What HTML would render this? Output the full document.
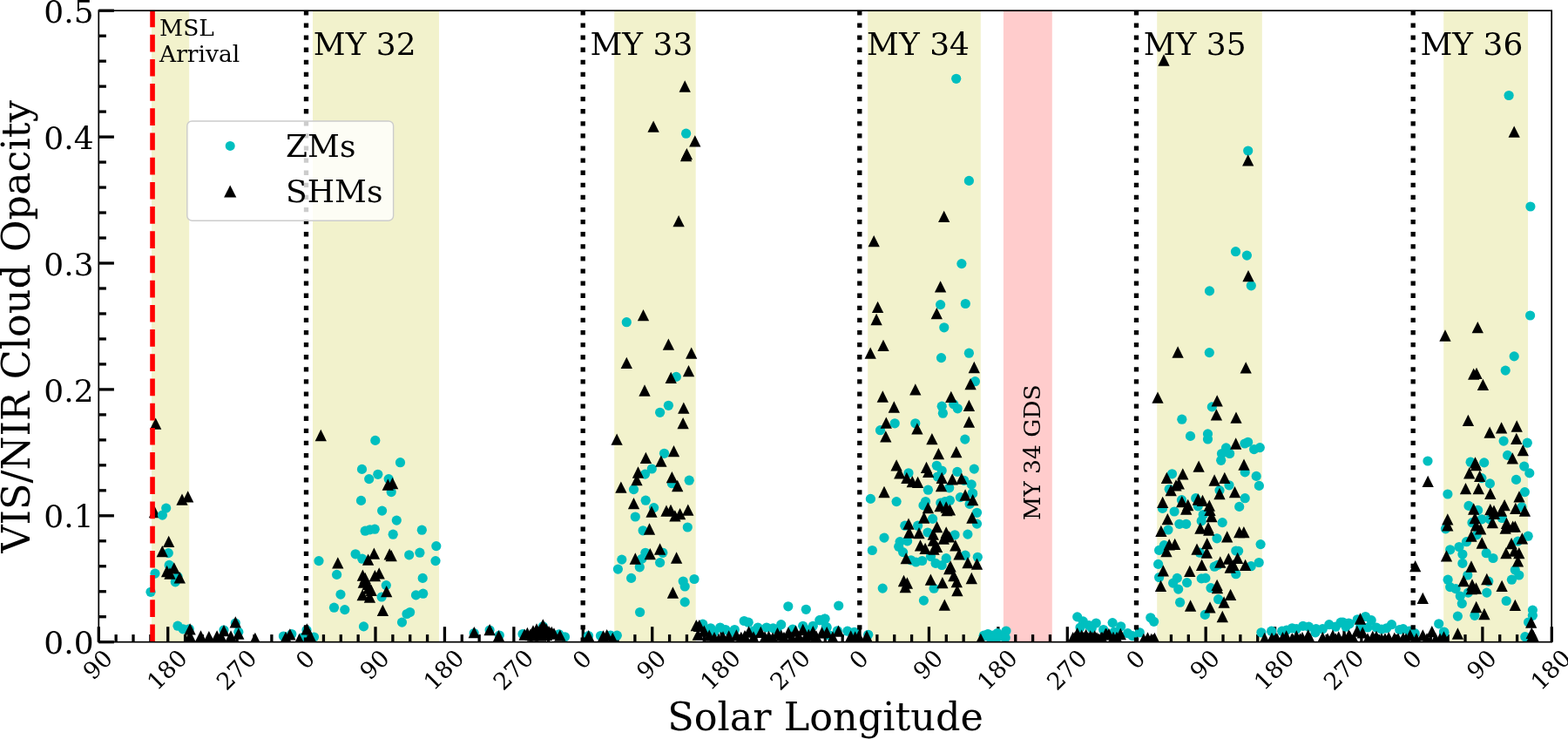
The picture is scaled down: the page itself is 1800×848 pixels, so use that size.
<!DOCTYPE html><html><head><meta charset="utf-8"><style>html,body{margin:0;padding:0;background:#fff;overflow:hidden}svg{display:block}</style></head><body><svg width="1800" height="848" viewBox="0 0 1800 848"><rect x="0" y="0" width="1800" height="848" fill="#fff"/><defs><clipPath id="ax"><rect x="113.3" y="12.2" width="1667.90" height="724.50"/></clipPath></defs><rect x="174.0" y="12.2" width="43.20" height="724.50" fill="#f2f2cc"/><rect x="359.0" y="12.2" width="145.00" height="724.50" fill="#f2f2cc"/><rect x="705.2" y="12.2" width="93.50" height="724.50" fill="#f2f2cc"/><rect x="996.2" y="12.2" width="129.60" height="724.50" fill="#f2f2cc"/><rect x="1328.2" y="12.2" width="120.60" height="724.50" fill="#f2f2cc"/><rect x="1657.2" y="12.2" width="96.80" height="724.50" fill="#f2f2cc"/><rect x="1151.9" y="12.2" width="55.90" height="724.50" fill="#ffcccc"/><line x1="113.3" y1="736.70" x2="130.9" y2="736.70" stroke="#000" stroke-width="3.3"/><line x1="113.3" y1="707.72" x2="121.89999999999999" y2="707.72" stroke="#000" stroke-width="3.3"/><line x1="113.3" y1="678.74" x2="121.89999999999999" y2="678.74" stroke="#000" stroke-width="3.3"/><line x1="113.3" y1="649.76" x2="121.89999999999999" y2="649.76" stroke="#000" stroke-width="3.3"/><line x1="113.3" y1="620.78" x2="121.89999999999999" y2="620.78" stroke="#000" stroke-width="3.3"/><line x1="113.3" y1="591.80" x2="130.9" y2="591.80" stroke="#000" stroke-width="3.3"/><line x1="113.3" y1="562.82" x2="121.89999999999999" y2="562.82" stroke="#000" stroke-width="3.3"/><line x1="113.3" y1="533.84" x2="121.89999999999999" y2="533.84" stroke="#000" stroke-width="3.3"/><line x1="113.3" y1="504.86" x2="121.89999999999999" y2="504.86" stroke="#000" stroke-width="3.3"/><line x1="113.3" y1="475.88" x2="121.89999999999999" y2="475.88" stroke="#000" stroke-width="3.3"/><line x1="113.3" y1="446.90" x2="130.9" y2="446.90" stroke="#000" stroke-width="3.3"/><line x1="113.3" y1="417.92" x2="121.89999999999999" y2="417.92" stroke="#000" stroke-width="3.3"/><line x1="113.3" y1="388.94" x2="121.89999999999999" y2="388.94" stroke="#000" stroke-width="3.3"/><line x1="113.3" y1="359.96" x2="121.89999999999999" y2="359.96" stroke="#000" stroke-width="3.3"/><line x1="113.3" y1="330.98" x2="121.89999999999999" y2="330.98" stroke="#000" stroke-width="3.3"/><line x1="113.3" y1="302.00" x2="130.9" y2="302.00" stroke="#000" stroke-width="3.3"/><line x1="113.3" y1="273.02" x2="121.89999999999999" y2="273.02" stroke="#000" stroke-width="3.3"/><line x1="113.3" y1="244.04" x2="121.89999999999999" y2="244.04" stroke="#000" stroke-width="3.3"/><line x1="113.3" y1="215.06" x2="121.89999999999999" y2="215.06" stroke="#000" stroke-width="3.3"/><line x1="113.3" y1="186.08" x2="121.89999999999999" y2="186.08" stroke="#000" stroke-width="3.3"/><line x1="113.3" y1="157.10" x2="130.9" y2="157.10" stroke="#000" stroke-width="3.3"/><line x1="113.3" y1="128.12" x2="121.89999999999999" y2="128.12" stroke="#000" stroke-width="3.3"/><line x1="113.3" y1="99.14" x2="121.89999999999999" y2="99.14" stroke="#000" stroke-width="3.3"/><line x1="113.3" y1="70.16" x2="121.89999999999999" y2="70.16" stroke="#000" stroke-width="3.3"/><line x1="113.3" y1="41.18" x2="121.89999999999999" y2="41.18" stroke="#000" stroke-width="3.3"/><line x1="113.3" y1="12.20" x2="130.9" y2="12.20" stroke="#000" stroke-width="3.3"/><line x1="113.30" y1="736.7" x2="113.30" y2="719.2" stroke="#000" stroke-width="3.3"/><line x1="133.16" y1="736.7" x2="133.16" y2="728.1" stroke="#000" stroke-width="3.3"/><line x1="153.01" y1="736.7" x2="153.01" y2="728.1" stroke="#000" stroke-width="3.3"/><line x1="172.87" y1="736.7" x2="172.87" y2="728.1" stroke="#000" stroke-width="3.3"/><line x1="192.73" y1="736.7" x2="192.73" y2="719.2" stroke="#000" stroke-width="3.3"/><line x1="212.59" y1="736.7" x2="212.59" y2="728.1" stroke="#000" stroke-width="3.3"/><line x1="232.44" y1="736.7" x2="232.44" y2="728.1" stroke="#000" stroke-width="3.3"/><line x1="252.30" y1="736.7" x2="252.30" y2="728.1" stroke="#000" stroke-width="3.3"/><line x1="272.16" y1="736.7" x2="272.16" y2="719.2" stroke="#000" stroke-width="3.3"/><line x1="292.01" y1="736.7" x2="292.01" y2="728.1" stroke="#000" stroke-width="3.3"/><line x1="311.87" y1="736.7" x2="311.87" y2="728.1" stroke="#000" stroke-width="3.3"/><line x1="331.73" y1="736.7" x2="331.73" y2="728.1" stroke="#000" stroke-width="3.3"/><line x1="351.59" y1="736.7" x2="351.59" y2="719.2" stroke="#000" stroke-width="3.3"/><line x1="371.44" y1="736.7" x2="371.44" y2="728.1" stroke="#000" stroke-width="3.3"/><line x1="391.30" y1="736.7" x2="391.30" y2="728.1" stroke="#000" stroke-width="3.3"/><line x1="411.16" y1="736.7" x2="411.16" y2="728.1" stroke="#000" stroke-width="3.3"/><line x1="431.01" y1="736.7" x2="431.01" y2="719.2" stroke="#000" stroke-width="3.3"/><line x1="450.87" y1="736.7" x2="450.87" y2="728.1" stroke="#000" stroke-width="3.3"/><line x1="470.73" y1="736.7" x2="470.73" y2="728.1" stroke="#000" stroke-width="3.3"/><line x1="490.59" y1="736.7" x2="490.59" y2="728.1" stroke="#000" stroke-width="3.3"/><line x1="510.44" y1="736.7" x2="510.44" y2="719.2" stroke="#000" stroke-width="3.3"/><line x1="530.30" y1="736.7" x2="530.30" y2="728.1" stroke="#000" stroke-width="3.3"/><line x1="550.16" y1="736.7" x2="550.16" y2="728.1" stroke="#000" stroke-width="3.3"/><line x1="570.01" y1="736.7" x2="570.01" y2="728.1" stroke="#000" stroke-width="3.3"/><line x1="589.87" y1="736.7" x2="589.87" y2="719.2" stroke="#000" stroke-width="3.3"/><line x1="609.73" y1="736.7" x2="609.73" y2="728.1" stroke="#000" stroke-width="3.3"/><line x1="629.59" y1="736.7" x2="629.59" y2="728.1" stroke="#000" stroke-width="3.3"/><line x1="649.44" y1="736.7" x2="649.44" y2="728.1" stroke="#000" stroke-width="3.3"/><line x1="669.30" y1="736.7" x2="669.30" y2="719.2" stroke="#000" stroke-width="3.3"/><line x1="689.16" y1="736.7" x2="689.16" y2="728.1" stroke="#000" stroke-width="3.3"/><line x1="709.01" y1="736.7" x2="709.01" y2="728.1" stroke="#000" stroke-width="3.3"/><line x1="728.87" y1="736.7" x2="728.87" y2="728.1" stroke="#000" stroke-width="3.3"/><line x1="748.73" y1="736.7" x2="748.73" y2="719.2" stroke="#000" stroke-width="3.3"/><line x1="768.59" y1="736.7" x2="768.59" y2="728.1" stroke="#000" stroke-width="3.3"/><line x1="788.44" y1="736.7" x2="788.44" y2="728.1" stroke="#000" stroke-width="3.3"/><line x1="808.30" y1="736.7" x2="808.30" y2="728.1" stroke="#000" stroke-width="3.3"/><line x1="828.16" y1="736.7" x2="828.16" y2="719.2" stroke="#000" stroke-width="3.3"/><line x1="848.01" y1="736.7" x2="848.01" y2="728.1" stroke="#000" stroke-width="3.3"/><line x1="867.87" y1="736.7" x2="867.87" y2="728.1" stroke="#000" stroke-width="3.3"/><line x1="887.73" y1="736.7" x2="887.73" y2="728.1" stroke="#000" stroke-width="3.3"/><line x1="907.59" y1="736.7" x2="907.59" y2="719.2" stroke="#000" stroke-width="3.3"/><line x1="927.44" y1="736.7" x2="927.44" y2="728.1" stroke="#000" stroke-width="3.3"/><line x1="947.30" y1="736.7" x2="947.30" y2="728.1" stroke="#000" stroke-width="3.3"/><line x1="967.16" y1="736.7" x2="967.16" y2="728.1" stroke="#000" stroke-width="3.3"/><line x1="987.01" y1="736.7" x2="987.01" y2="719.2" stroke="#000" stroke-width="3.3"/><line x1="1006.87" y1="736.7" x2="1006.87" y2="728.1" stroke="#000" stroke-width="3.3"/><line x1="1026.73" y1="736.7" x2="1026.73" y2="728.1" stroke="#000" stroke-width="3.3"/><line x1="1046.59" y1="736.7" x2="1046.59" y2="728.1" stroke="#000" stroke-width="3.3"/><line x1="1066.44" y1="736.7" x2="1066.44" y2="719.2" stroke="#000" stroke-width="3.3"/><line x1="1086.30" y1="736.7" x2="1086.30" y2="728.1" stroke="#000" stroke-width="3.3"/><line x1="1106.16" y1="736.7" x2="1106.16" y2="728.1" stroke="#000" stroke-width="3.3"/><line x1="1126.01" y1="736.7" x2="1126.01" y2="728.1" stroke="#000" stroke-width="3.3"/><line x1="1145.87" y1="736.7" x2="1145.87" y2="719.2" stroke="#000" stroke-width="3.3"/><line x1="1165.73" y1="736.7" x2="1165.73" y2="728.1" stroke="#000" stroke-width="3.3"/><line x1="1185.59" y1="736.7" x2="1185.59" y2="728.1" stroke="#000" stroke-width="3.3"/><line x1="1205.44" y1="736.7" x2="1205.44" y2="728.1" stroke="#000" stroke-width="3.3"/><line x1="1225.30" y1="736.7" x2="1225.30" y2="719.2" stroke="#000" stroke-width="3.3"/><line x1="1245.16" y1="736.7" x2="1245.16" y2="728.1" stroke="#000" stroke-width="3.3"/><line x1="1265.01" y1="736.7" x2="1265.01" y2="728.1" stroke="#000" stroke-width="3.3"/><line x1="1284.87" y1="736.7" x2="1284.87" y2="728.1" stroke="#000" stroke-width="3.3"/><line x1="1304.73" y1="736.7" x2="1304.73" y2="719.2" stroke="#000" stroke-width="3.3"/><line x1="1324.59" y1="736.7" x2="1324.59" y2="728.1" stroke="#000" stroke-width="3.3"/><line x1="1344.44" y1="736.7" x2="1344.44" y2="728.1" stroke="#000" stroke-width="3.3"/><line x1="1364.30" y1="736.7" x2="1364.30" y2="728.1" stroke="#000" stroke-width="3.3"/><line x1="1384.16" y1="736.7" x2="1384.16" y2="719.2" stroke="#000" stroke-width="3.3"/><line x1="1404.01" y1="736.7" x2="1404.01" y2="728.1" stroke="#000" stroke-width="3.3"/><line x1="1423.87" y1="736.7" x2="1423.87" y2="728.1" stroke="#000" stroke-width="3.3"/><line x1="1443.73" y1="736.7" x2="1443.73" y2="728.1" stroke="#000" stroke-width="3.3"/><line x1="1463.59" y1="736.7" x2="1463.59" y2="719.2" stroke="#000" stroke-width="3.3"/><line x1="1483.44" y1="736.7" x2="1483.44" y2="728.1" stroke="#000" stroke-width="3.3"/><line x1="1503.30" y1="736.7" x2="1503.30" y2="728.1" stroke="#000" stroke-width="3.3"/><line x1="1523.16" y1="736.7" x2="1523.16" y2="728.1" stroke="#000" stroke-width="3.3"/><line x1="1543.01" y1="736.7" x2="1543.01" y2="719.2" stroke="#000" stroke-width="3.3"/><line x1="1562.87" y1="736.7" x2="1562.87" y2="728.1" stroke="#000" stroke-width="3.3"/><line x1="1582.73" y1="736.7" x2="1582.73" y2="728.1" stroke="#000" stroke-width="3.3"/><line x1="1602.59" y1="736.7" x2="1602.59" y2="728.1" stroke="#000" stroke-width="3.3"/><line x1="1622.44" y1="736.7" x2="1622.44" y2="719.2" stroke="#000" stroke-width="3.3"/><line x1="1642.30" y1="736.7" x2="1642.30" y2="728.1" stroke="#000" stroke-width="3.3"/><line x1="1662.16" y1="736.7" x2="1662.16" y2="728.1" stroke="#000" stroke-width="3.3"/><line x1="1682.01" y1="736.7" x2="1682.01" y2="728.1" stroke="#000" stroke-width="3.3"/><line x1="1701.87" y1="736.7" x2="1701.87" y2="719.2" stroke="#000" stroke-width="3.3"/><line x1="1721.73" y1="736.7" x2="1721.73" y2="728.1" stroke="#000" stroke-width="3.3"/><line x1="1741.59" y1="736.7" x2="1741.59" y2="728.1" stroke="#000" stroke-width="3.3"/><line x1="1761.44" y1="736.7" x2="1761.44" y2="728.1" stroke="#000" stroke-width="3.3"/><line x1="1781.30" y1="736.7" x2="1781.30" y2="719.2" stroke="#000" stroke-width="3.3"/><g clip-path="url(#ax)"><g fill="#00bfbf"><circle cx="193.3" cy="634.6" r="5.6"/><circle cx="194.2" cy="648.4" r="5.6"/><circle cx="178.0" cy="658.1" r="5.6"/><circle cx="204.0" cy="661.6" r="5.6"/><circle cx="201.3" cy="667.8" r="5.6"/><circle cx="173.0" cy="679.3" r="5.6"/><circle cx="204.0" cy="718.2" r="5.6"/><circle cx="210.1" cy="721.8" r="5.6"/><circle cx="217.2" cy="721.8" r="5.6"/><circle cx="257.0" cy="723.0" r="5.6"/><circle cx="270.3" cy="715.0" r="5.6"/><circle cx="273.8" cy="725.3" r="5.6"/><circle cx="430.8" cy="505.4" r="5.6"/><circle cx="459.5" cy="530.7" r="5.6"/><circle cx="415.5" cy="538.4" r="5.6"/><circle cx="433.8" cy="544.3" r="5.6"/><circle cx="423.7" cy="549.6" r="5.6"/><circle cx="446.2" cy="549.6" r="5.6"/><circle cx="449.2" cy="564.6" r="5.6"/><circle cx="414.5" cy="574.4" r="5.6"/><circle cx="438.6" cy="586.1" r="5.6"/><circle cx="455.3" cy="597.1" r="5.6"/><circle cx="419.2" cy="609.2" r="5.6"/><circle cx="424.6" cy="607.8" r="5.6"/><circle cx="430.2" cy="607.2" r="5.6"/><circle cx="451.2" cy="613.2" r="5.6"/><circle cx="484.3" cy="608.2" r="5.6"/><circle cx="500.8" cy="626.6" r="5.6"/><circle cx="500.0" cy="643.6" r="5.6"/><circle cx="481.9" cy="634.2" r="5.6"/><circle cx="469.7" cy="636.8" r="5.6"/><circle cx="408.1" cy="635.8" r="5.6"/><circle cx="415.8" cy="641.2" r="5.6"/><circle cx="366.0" cy="643.6" r="5.6"/><circle cx="386.6" cy="659.4" r="5.6"/><circle cx="485.2" cy="663.4" r="5.6"/><circle cx="443.3" cy="671.6" r="5.6"/><circle cx="438.1" cy="685.0" r="5.6"/><circle cx="391.0" cy="682.1" r="5.6"/><circle cx="477.5" cy="682.9" r="5.6"/><circle cx="485.7" cy="681.2" r="5.6"/><circle cx="383.5" cy="697.2" r="5.6"/><circle cx="395.8" cy="699.6" r="5.6"/><circle cx="467.0" cy="704.5" r="5.6"/><circle cx="470.6" cy="702.5" r="5.6"/><circle cx="461.5" cy="714.1" r="5.6"/><circle cx="417.5" cy="718.9" r="5.6"/><circle cx="787.6" cy="153.2" r="5.6"/><circle cx="719.3" cy="369.7" r="5.6"/><circle cx="776.3" cy="432.4" r="5.6"/><circle cx="767.4" cy="465.3" r="5.6"/><circle cx="757.6" cy="473.3" r="5.6"/><circle cx="762.5" cy="520.3" r="5.6"/><circle cx="748.3" cy="538.0" r="5.6"/><circle cx="740.5" cy="544.1" r="5.6"/><circle cx="771.4" cy="554.7" r="5.6"/><circle cx="791.2" cy="551.2" r="5.6"/><circle cx="727.5" cy="561.6" r="5.6"/><circle cx="741.2" cy="574.2" r="5.6"/><circle cx="750.6" cy="582.6" r="5.6"/><circle cx="729.3" cy="593.0" r="5.6"/><circle cx="789.3" cy="605.0" r="5.6"/><circle cx="738.1" cy="608.8" r="5.6"/><circle cx="740.9" cy="634.3" r="5.6"/><circle cx="760.8" cy="634.3" r="5.6"/><circle cx="736.7" cy="641.4" r="5.6"/><circle cx="757.6" cy="645.6" r="5.6"/><circle cx="713.8" cy="642.1" r="5.6"/><circle cx="709.4" cy="653.1" r="5.6"/><circle cx="734.3" cy="650.8" r="5.6"/><circle cx="724.6" cy="663.4" r="5.6"/><circle cx="784.2" cy="667.0" r="5.6"/><circle cx="797.0" cy="664.5" r="5.6"/><circle cx="786.2" cy="673.0" r="5.6"/><circle cx="786.2" cy="690.9" r="5.6"/><circle cx="806.8" cy="716.1" r="5.6"/><circle cx="1097.7" cy="90.3" r="5.6"/><circle cx="1112.4" cy="207.4" r="5.6"/><circle cx="1103.9" cy="302.6" r="5.6"/><circle cx="1079.6" cy="349.6" r="5.6"/><circle cx="1108.3" cy="348.5" r="5.6"/><circle cx="1083.8" cy="375.8" r="5.6"/><circle cx="1080.5" cy="410.6" r="5.6"/><circle cx="1112.4" cy="405.2" r="5.6"/><circle cx="1119.4" cy="437.7" r="5.6"/><circle cx="1081.2" cy="466.2" r="5.6"/><circle cx="1082.4" cy="474.2" r="5.6"/><circle cx="1094.7" cy="463.8" r="5.6"/><circle cx="1099.3" cy="468.8" r="5.6"/><circle cx="1027.2" cy="485.8" r="5.6"/><circle cx="1010.5" cy="493.7" r="5.6"/><circle cx="1050.8" cy="485.8" r="5.6"/><circle cx="1107.8" cy="504.1" r="5.6"/><circle cx="1043.0" cy="542.8" r="5.6"/><circle cx="1075.3" cy="534.3" r="5.6"/><circle cx="1081.2" cy="540.0" r="5.6"/><circle cx="1076.3" cy="547.0" r="5.6"/><circle cx="1089.7" cy="559.8" r="5.6"/><circle cx="1098.9" cy="541.4" r="5.6"/><circle cx="1106.7" cy="551.3" r="5.6"/><circle cx="1118.3" cy="538.1" r="5.6"/><circle cx="1115.2" cy="555.9" r="5.6"/><circle cx="1116.3" cy="565.8" r="5.6"/><circle cx="1102.4" cy="570.6" r="5.6"/><circle cx="1116.6" cy="566.4" r="5.6"/><circle cx="999.4" cy="572.4" r="5.6"/><circle cx="1029.1" cy="575.6" r="5.6"/><circle cx="1065.4" cy="562.2" r="5.6"/><circle cx="1062.5" cy="575.5" r="5.6"/><circle cx="1060.0" cy="579.9" r="5.6"/><circle cx="1079.8" cy="577.0" r="5.6"/><circle cx="1090.4" cy="574.2" r="5.6"/><circle cx="1084.8" cy="575.6" r="5.6"/><circle cx="1113.1" cy="578.4" r="5.6"/><circle cx="1121.5" cy="588.3" r="5.6"/><circle cx="1121.5" cy="601.1" r="5.6"/><circle cx="1070.6" cy="595.4" r="5.6"/><circle cx="1038.8" cy="603.2" r="5.6"/><circle cx="1053.6" cy="603.2" r="5.6"/><circle cx="1065.0" cy="611.0" r="5.6"/><circle cx="1096.1" cy="613.8" r="5.6"/><circle cx="1110.9" cy="613.1" r="5.6"/><circle cx="1015.0" cy="617.1" r="5.6"/><circle cx="1033.1" cy="621.6" r="5.6"/><circle cx="1041.6" cy="620.9" r="5.6"/><circle cx="1031.7" cy="627.3" r="5.6"/><circle cx="1001.3" cy="631.5" r="5.6"/><circle cx="1036.6" cy="633.6" r="5.6"/><circle cx="1068.5" cy="638.6" r="5.6"/><circle cx="1045.8" cy="642.8" r="5.6"/><circle cx="1051.5" cy="645.0" r="5.6"/><circle cx="1058.6" cy="643.5" r="5.6"/><circle cx="1086.2" cy="640.7" r="5.6"/><circle cx="1074.1" cy="646.4" r="5.6"/><circle cx="1081.2" cy="648.5" r="5.6"/><circle cx="1108.1" cy="637.2" r="5.6"/><circle cx="1122.3" cy="639.3" r="5.6"/><circle cx="1013.2" cy="675.1" r="5.6"/><circle cx="1072.1" cy="675.2" r="5.6"/><circle cx="1060.4" cy="689.1" r="5.6"/><circle cx="1129.4" cy="729.2" r="5.6"/><circle cx="1133.4" cy="728.2" r="5.6"/><circle cx="1432.7" cy="173.0" r="5.6"/><circle cx="1418.5" cy="288.7" r="5.6"/><circle cx="1431.4" cy="293.1" r="5.6"/><circle cx="1436.3" cy="327.8" r="5.6"/><circle cx="1388.5" cy="333.9" r="5.6"/><circle cx="1388.3" cy="404.6" r="5.6"/><circle cx="1391.3" cy="466.9" r="5.6"/><circle cx="1356.8" cy="481.2" r="5.6"/><circle cx="1366.5" cy="500.4" r="5.6"/><circle cx="1386.5" cy="497.9" r="5.6"/><circle cx="1386.5" cy="504.0" r="5.6"/><circle cx="1407.5" cy="513.9" r="5.6"/><circle cx="1402.5" cy="520.5" r="5.6"/><circle cx="1411.6" cy="520.5" r="5.6"/><circle cx="1401.7" cy="528.3" r="5.6"/><circle cx="1428.9" cy="509.0" r="5.6"/><circle cx="1432.6" cy="507.3" r="5.6"/><circle cx="1439.6" cy="515.6" r="5.6"/><circle cx="1446.3" cy="513.6" r="5.6"/><circle cx="1429.2" cy="541.9" r="5.6"/><circle cx="1442.2" cy="546.4" r="5.6"/><circle cx="1445.4" cy="557.4" r="5.6"/><circle cx="1345.5" cy="543.8" r="5.6"/><circle cx="1342.2" cy="561.3" r="5.6"/><circle cx="1411.0" cy="556.8" r="5.6"/><circle cx="1400.0" cy="562.6" r="5.6"/><circle cx="1429.2" cy="571.7" r="5.6"/><circle cx="1422.7" cy="581.4" r="5.6"/><circle cx="1334.5" cy="583.4" r="5.6"/><circle cx="1356.5" cy="573.7" r="5.6"/><circle cx="1348.1" cy="587.0" r="5.6"/><circle cx="1372.7" cy="571.7" r="5.6"/><circle cx="1375.3" cy="580.8" r="5.6"/><circle cx="1381.2" cy="590.5" r="5.6"/><circle cx="1379.2" cy="597.7" r="5.6"/><circle cx="1353.9" cy="601.3" r="5.6"/><circle cx="1361.7" cy="601.3" r="5.6"/><circle cx="1403.2" cy="599.6" r="5.6"/><circle cx="1341.0" cy="608.0" r="5.6"/><circle cx="1397.0" cy="617.8" r="5.6"/><circle cx="1447.1" cy="624.6" r="5.6"/><circle cx="1336.4" cy="625.6" r="5.6"/><circle cx="1418.8" cy="632.0" r="5.6"/><circle cx="1330.6" cy="631.4" r="5.6"/><circle cx="1377.3" cy="634.2" r="5.6"/><circle cx="1421.6" cy="632.3" r="5.6"/><circle cx="1394.2" cy="650.2" r="5.6"/><circle cx="1398.0" cy="648.3" r="5.6"/><circle cx="1418.8" cy="658.7" r="5.6"/><circle cx="1436.2" cy="649.7" r="5.6"/><circle cx="1445.2" cy="645.5" r="5.6"/><circle cx="1329.6" cy="647.4" r="5.6"/><circle cx="1330.6" cy="662.5" r="5.6"/><circle cx="1351.3" cy="663.4" r="5.6"/><circle cx="1346.6" cy="669.1" r="5.6"/><circle cx="1352.7" cy="676.1" r="5.6"/><circle cx="1362.6" cy="668.6" r="5.6"/><circle cx="1379.2" cy="663.9" r="5.6"/><circle cx="1383.9" cy="663.4" r="5.6"/><circle cx="1390.0" cy="674.7" r="5.6"/><circle cx="1398.6" cy="687.7" r="5.6"/><circle cx="1354.6" cy="691.2" r="5.6"/><circle cx="1383.3" cy="705.4" r="5.6"/><circle cx="1732.1" cy="109.5" r="5.6"/><circle cx="1756.9" cy="237.0" r="5.6"/><circle cx="1756.6" cy="362.0" r="5.6"/><circle cx="1738.2" cy="408.9" r="5.6"/><circle cx="1728.2" cy="425.1" r="5.6"/><circle cx="1726.1" cy="506.1" r="5.6"/><circle cx="1753.3" cy="508.2" r="5.6"/><circle cx="1730.6" cy="522.4" r="5.6"/><circle cx="1639.0" cy="529.0" r="5.6"/><circle cx="1688.1" cy="530.2" r="5.6"/><circle cx="1703.7" cy="530.9" r="5.6"/><circle cx="1700.9" cy="548.6" r="5.6"/><circle cx="1749.7" cy="535.1" r="5.6"/><circle cx="1755.8" cy="542.9" r="5.6"/><circle cx="1740.5" cy="550.4" r="5.6"/><circle cx="1710.4" cy="554.9" r="5.6"/><circle cx="1661.9" cy="567.0" r="5.6"/><circle cx="1750.4" cy="564.6" r="5.6"/><circle cx="1686.0" cy="580.4" r="5.6"/><circle cx="1696.6" cy="585.4" r="5.6"/><circle cx="1746.9" cy="581.8" r="5.6"/><circle cx="1659.5" cy="606.8" r="5.6"/><circle cx="1701.0" cy="595.8" r="5.6"/><circle cx="1690.0" cy="599.7" r="5.6"/><circle cx="1710.1" cy="595.8" r="5.6"/><circle cx="1724.3" cy="594.5" r="5.6"/><circle cx="1695.1" cy="613.9" r="5.6"/><circle cx="1754.2" cy="615.2" r="5.6"/><circle cx="1742.5" cy="621.1" r="5.6"/><circle cx="1683.5" cy="621.7" r="5.6"/><circle cx="1675.0" cy="627.5" r="5.6"/><circle cx="1664.7" cy="630.8" r="5.6"/><circle cx="1678.9" cy="636.0" r="5.6"/><circle cx="1706.2" cy="634.7" r="5.6"/><circle cx="1714.0" cy="640.5" r="5.6"/><circle cx="1678.9" cy="646.4" r="5.6"/><circle cx="1739.3" cy="654.1" r="5.6"/><circle cx="1743.8" cy="660.0" r="5.6"/><circle cx="1735.4" cy="665.2" r="5.6"/><circle cx="1684.8" cy="660.0" r="5.6"/><circle cx="1662.1" cy="665.2" r="5.6"/><circle cx="1664.7" cy="673.6" r="5.6"/><circle cx="1671.1" cy="675.6" r="5.6"/><circle cx="1708.8" cy="667.1" r="5.6"/><circle cx="1706.8" cy="680.1" r="5.6"/><circle cx="1685.4" cy="680.1" r="5.6"/><circle cx="1676.3" cy="684.0" r="5.6"/><circle cx="1678.3" cy="692.6" r="5.6"/><circle cx="1729.2" cy="689.5" r="5.6"/><circle cx="1692.9" cy="706.3" r="5.6"/><circle cx="1673.4" cy="707.1" r="5.6"/><circle cx="1658.0" cy="725.7" r="5.6"/><circle cx="1759.4" cy="700.1" r="5.6"/><circle cx="1759.4" cy="706.3" r="5.6"/><circle cx="1754.6" cy="714.0" r="5.6"/><circle cx="1750.8" cy="730.7" r="5.6"/><circle cx="325.4" cy="730.0" r="5.6"/><circle cx="334.8" cy="727.5" r="5.6"/><circle cx="347.4" cy="731.5" r="5.6"/><circle cx="352.0" cy="723.0" r="5.6"/><circle cx="360.5" cy="731.0" r="5.6"/><circle cx="544.2" cy="726.5" r="5.6"/><circle cx="562.1" cy="723.0" r="5.6"/><circle cx="573.3" cy="729.0" r="5.6"/><circle cx="600.0" cy="727.5" r="5.6"/><circle cx="623.3" cy="718.8" r="5.6"/><circle cx="641.7" cy="727.8" r="5.6"/><circle cx="648.5" cy="730.8" r="5.6"/><circle cx="675.5" cy="729.5" r="5.6"/><circle cx="689.5" cy="729.5" r="5.6"/><circle cx="700.8" cy="729.0" r="5.6"/><circle cx="708.3" cy="729.2" r="5.6"/><circle cx="734.6" cy="702.5" r="5.6"/><circle cx="904.8" cy="695.8" r="5.6"/><circle cx="925.3" cy="699.3" r="5.6"/><circle cx="854.2" cy="712.5" r="5.6"/><circle cx="859.2" cy="714.2" r="5.6"/><circle cx="815.8" cy="720.8" r="5.6"/><circle cx="826.7" cy="720.0" r="5.6"/><circle cx="832.9" cy="722.5" r="5.6"/><circle cx="843.3" cy="722.5" r="5.6"/><circle cx="870.0" cy="720.0" r="5.6"/><circle cx="880.0" cy="720.0" r="5.6"/><circle cx="887.5" cy="720.8" r="5.6"/><circle cx="896.7" cy="716.7" r="5.6"/><circle cx="921.7" cy="718.3" r="5.6"/><circle cx="933.3" cy="718.3" r="5.6"/><circle cx="940.8" cy="711.7" r="5.6"/><circle cx="946.7" cy="710.0" r="5.6"/><circle cx="948.3" cy="719.2" r="5.6"/><circle cx="810.0" cy="723.0" r="5.6"/><circle cx="820.0" cy="725.0" r="5.6"/><circle cx="838.0" cy="726.0" r="5.6"/><circle cx="865.0" cy="724.0" r="5.6"/><circle cx="892.0" cy="723.0" r="5.6"/><circle cx="910.0" cy="722.0" r="5.6"/><circle cx="927.0" cy="723.0" r="5.6"/><circle cx="962.7" cy="695.0" r="5.6"/><circle cx="941.7" cy="711.7" r="5.6"/><circle cx="947.1" cy="710.0" r="5.6"/><circle cx="949.2" cy="720.0" r="5.6"/><circle cx="952.5" cy="729.2" r="5.6"/><circle cx="961.3" cy="723.8" r="5.6"/><circle cx="972.9" cy="724.2" r="5.6"/><circle cx="980.8" cy="725.4" r="5.6"/><circle cx="996.7" cy="728.3" r="5.6"/><circle cx="1129.2" cy="730.0" r="5.6"/><circle cx="1134.2" cy="727.5" r="5.6"/><circle cx="1140.0" cy="729.2" r="5.6"/><circle cx="1145.0" cy="726.5" r="5.6"/><circle cx="1149.2" cy="730.0" r="5.6"/><circle cx="1155.0" cy="724.0" r="5.6"/><circle cx="1154.2" cy="731.7" r="5.6"/><circle cx="1144.2" cy="731.7" r="5.6"/><circle cx="1136.7" cy="731.7" r="5.6"/><circle cx="1236.7" cy="707.9" r="5.6"/><circle cx="1243.3" cy="712.9" r="5.6"/><circle cx="1250.0" cy="717.5" r="5.6"/><circle cx="1258.3" cy="715.0" r="5.6"/><circle cx="1266.7" cy="722.5" r="5.6"/><circle cx="1240.0" cy="720.0" r="5.6"/><circle cx="1253.3" cy="720.8" r="5.6"/><circle cx="1277.1" cy="714.6" r="5.6"/><circle cx="1286.7" cy="718.8" r="5.6"/><circle cx="1279.2" cy="725.0" r="5.6"/><circle cx="1294.6" cy="726.7" r="5.6"/><circle cx="1300.0" cy="729.6" r="5.6"/><circle cx="1308.3" cy="725.8" r="5.6"/><circle cx="1320.8" cy="708.8" r="5.6"/><circle cx="1324.6" cy="713.3" r="5.6"/><circle cx="1447.9" cy="725.8" r="5.6"/><circle cx="1459.6" cy="724.2" r="5.6"/><circle cx="1471.7" cy="724.2" r="5.6"/><circle cx="1483.3" cy="720.8" r="5.6"/><circle cx="1488.3" cy="721.7" r="5.6"/><circle cx="1495.8" cy="718.3" r="5.6"/><circle cx="1502.5" cy="719.2" r="5.6"/><circle cx="1510.0" cy="725.8" r="5.6"/><circle cx="1518.3" cy="721.7" r="5.6"/><circle cx="1525.8" cy="716.7" r="5.6"/><circle cx="1539.2" cy="714.2" r="5.6"/><circle cx="1548.3" cy="715.0" r="5.6"/><circle cx="1533.3" cy="719.2" r="5.6"/><circle cx="1510.8" cy="721.7" r="5.6"/><circle cx="1477.0" cy="723.0" r="5.6"/><circle cx="1541.7" cy="714.2" r="5.6"/><circle cx="1549.2" cy="715.8" r="5.6"/><circle cx="1558.3" cy="710.8" r="5.6"/><circle cx="1567.5" cy="707.5" r="5.6"/><circle cx="1574.2" cy="711.7" r="5.6"/><circle cx="1580.0" cy="720.0" r="5.6"/><circle cx="1591.7" cy="720.8" r="5.6"/><circle cx="1597.5" cy="716.7" r="5.6"/><circle cx="1606.7" cy="722.5" r="5.6"/><circle cx="1610.8" cy="721.7" r="5.6"/><circle cx="1624.2" cy="726.7" r="5.6"/><circle cx="1651.7" cy="715.8" r="5.6"/><circle cx="1657.5" cy="725.0" r="5.6"/><circle cx="1570.0" cy="720.0" r="5.6"/><circle cx="1561.7" cy="719.2" r="5.6"/><circle cx="1545.0" cy="719.2" r="5.6"/><circle cx="1586.0" cy="722.0" r="5.6"/><circle cx="1618.0" cy="724.0" r="5.6"/></g><g fill="#000"><path d="M178.7 479.55L172.05 492.85H185.35Z"/><path d="M209.0 566.55L202.35 579.85H215.65Z"/><path d="M215.7 563.25L209.05 576.55H222.35Z"/><path d="M177.5 580.85L170.85 594.15H184.15Z"/><path d="M193.7 614.75L187.05 628.05H200.35Z"/><path d="M186.3 625.95L179.65 639.25H192.95Z"/><path d="M199.9 645.25L193.25 658.55H206.55Z"/><path d="M191.6 648.85L184.95 662.15H198.25Z"/><path d="M195.0 651.35L188.35 664.65H201.65Z"/><path d="M206.3 656.25L199.65 669.55H212.95Z"/><path d="M218.1 715.15L211.45 728.45H224.75Z"/><path d="M218.1 723.15L211.45 736.45H224.75Z"/><path d="M230.5 723.15L223.85 736.45H237.15Z"/><path d="M239.9 723.95L233.25 737.25H246.55Z"/><path d="M249.1 723.15L242.45 736.45H255.75Z"/><path d="M257.0 716.95L250.35 730.25H263.65Z"/><path d="M254.4 724.85L247.75 738.15H261.05Z"/><path d="M265.0 723.15L258.35 736.45H271.65Z"/><path d="M270.3 707.15L263.65 720.45H276.95Z"/><path d="M273.8 720.45L267.15 733.75H280.45Z"/><path d="M292.9 725.75L286.25 739.05H299.55Z"/><path d="M368.3 492.85L361.65 506.15H374.95Z"/><path d="M445.3 549.45L438.65 562.75H451.95Z"/><path d="M450.6 547.85L443.95 561.15H457.25Z"/><path d="M429.4 628.55L422.75 641.85H436.05Z"/><path d="M422.6 635.55L415.95 648.85H429.25Z"/><path d="M447.2 629.15L440.55 642.45H453.85Z"/><path d="M449.2 630.95L442.55 644.25H455.85Z"/><path d="M387.8 639.25L381.15 652.55H394.45Z"/><path d="M416.4 653.55L409.75 666.85H423.05Z"/><path d="M419.2 656.65L412.55 669.95H425.85Z"/><path d="M430.4 653.95L423.75 667.25H437.05Z"/><path d="M435.2 651.15L428.55 664.45H441.85Z"/><path d="M417.3 661.45L410.65 674.75H423.95Z"/><path d="M422.9 668.55L416.25 681.85H429.55Z"/><path d="M422.2 663.65L415.55 676.95H428.85Z"/><path d="M426.2 670.65L419.55 683.95H432.85Z"/><path d="M416.2 675.95L409.55 689.25H422.85Z"/><path d="M424.4 678.35L417.75 691.65H431.05Z"/><path d="M443.7 671.95L437.05 685.25H450.35Z"/><path d="M439.4 693.75L432.75 707.05H446.05Z"/><path d="M786.2 92.35L779.55 105.65H792.85Z"/><path d="M750.1 138.45L743.45 151.75H756.75Z"/><path d="M797.8 155.15L791.15 168.45H804.45Z"/><path d="M787.6 171.95L780.95 185.25H794.25Z"/><path d="M779.1 247.05L772.45 260.35H785.75Z"/><path d="M738.5 354.95L731.85 368.25H745.15Z"/><path d="M767.4 388.55L760.75 401.85H774.05Z"/><path d="M793.7 398.45L787.05 411.75H800.35Z"/><path d="M719.3 409.75L712.65 423.05H725.95Z"/><path d="M790.5 418.95L783.85 432.25H797.15Z"/><path d="M770.2 426.75L763.55 440.05H776.85Z"/><path d="M740.0 441.35L733.35 454.65H746.65Z"/><path d="M784.8 461.45L778.15 474.75H791.45Z"/><path d="M784.1 479.05L777.45 492.35H790.75Z"/><path d="M708.1 497.55L701.45 510.85H714.75Z"/><path d="M773.5 510.95L766.85 524.25H780.15Z"/><path d="M741.4 518.65L734.75 531.95H748.05Z"/><path d="M758.9 522.55L752.25 535.85H765.55Z"/><path d="M732.5 535.35L725.85 548.65H739.15Z"/><path d="M731.0 544.05L724.35 557.35H737.65Z"/><path d="M771.4 540.95L764.75 554.25H778.05Z"/><path d="M777.7 550.85L771.05 564.15H784.35Z"/><path d="M712.9 552.55L706.25 565.85H719.55Z"/><path d="M727.5 571.05L720.85 584.35H734.15Z"/><path d="M748.0 580.55L741.35 593.85H754.65Z"/><path d="M765.0 579.55L758.35 592.85H771.65Z"/><path d="M770.0 578.85L763.35 592.15H776.65Z"/><path d="M789.8 578.55L783.15 591.85H796.45Z"/><path d="M774.9 585.15L768.25 598.45H781.55Z"/><path d="M780.6 583.05L773.95 596.35H787.25Z"/><path d="M745.5 600.35L738.85 613.65H752.15Z"/><path d="M757.6 623.35L750.95 636.65H764.25Z"/><path d="M746.3 629.05L739.65 642.35H752.95Z"/><path d="M729.3 634.35L722.65 647.65H735.95Z"/><path d="M776.6 633.35L769.95 646.65H783.25Z"/><path d="M772.4 673.35L765.75 686.65H779.05Z"/><path d="M799.3 711.05L792.65 724.35H805.95Z"/><path d="M802.8 711.05L796.15 724.35H809.45Z"/><path d="M801.3 721.55L794.65 734.85H807.95Z"/><path d="M788.4 169.95L781.75 183.25H795.05Z"/><path d="M1083.7 241.65L1077.05 254.95H1090.35Z"/><path d="M1003.2 269.95L996.55 283.25H1009.85Z"/><path d="M1079.6 322.15L1072.95 335.45H1086.25Z"/><path d="M1007.6 345.65L1000.95 358.95H1014.25Z"/><path d="M1075.3 352.95L1068.65 366.25H1081.95Z"/><path d="M1006.1 359.85L999.45 373.15H1012.75Z"/><path d="M1014.0 389.75L1007.35 403.05H1020.65Z"/><path d="M999.2 398.55L992.55 411.85H1005.85Z"/><path d="M1118.3 414.85L1111.65 428.15H1124.95Z"/><path d="M1114.1 433.95L1107.45 447.25H1120.75Z"/><path d="M1050.8 440.25L1044.15 453.55H1057.45Z"/><path d="M1013.3 448.35L1006.65 461.65H1019.95Z"/><path d="M1091.8 448.75L1085.15 462.05H1098.45Z"/><path d="M1026.3 460.35L1019.65 473.65H1032.95Z"/><path d="M1112.4 458.75L1105.75 472.05H1119.05Z"/><path d="M1112.4 477.45L1105.75 490.75H1119.05Z"/><path d="M1017.3 478.55L1010.65 491.85H1023.95Z"/><path d="M1016.8 494.15L1010.15 507.45H1023.45Z"/><path d="M1052.9 485.15L1046.25 498.45H1059.55Z"/><path d="M1069.9 496.95L1063.25 510.25H1076.55Z"/><path d="M1077.4 513.95L1070.75 527.25H1084.05Z"/><path d="M1097.8 512.05L1091.15 525.35H1104.45Z"/><path d="M1029.1 527.25L1022.45 540.55H1035.75Z"/><path d="M1032.8 536.15L1026.15 549.45H1039.45Z"/><path d="M1040.9 541.75L1034.25 555.05H1047.55Z"/><path d="M1047.3 546.05L1040.65 559.35H1053.95Z"/><path d="M1053.6 546.75L1046.95 560.05H1060.25Z"/><path d="M1063.5 529.75L1056.85 543.05H1070.15Z"/><path d="M1065.7 534.75L1059.05 548.05H1072.35Z"/><path d="M1081.2 541.75L1074.55 555.05H1087.85Z"/><path d="M1080.5 550.95L1073.85 564.25H1087.15Z"/><path d="M1093.2 543.25L1086.55 556.55H1099.85Z"/><path d="M1103.9 542.45L1097.25 555.75H1110.55Z"/><path d="M1108.1 561.35L1101.45 574.65H1114.75Z"/><path d="M1116.7 567.05L1110.05 580.35H1123.35Z"/><path d="M1015.0 557.85L1008.35 571.15H1021.65Z"/><path d="M1065.4 576.05L1058.75 589.35H1072.05Z"/><path d="M1079.1 573.95L1072.45 587.25H1085.75Z"/><path d="M1086.2 575.35L1079.55 588.65H1092.85Z"/><path d="M1090.4 578.15L1083.75 591.45H1097.05Z"/><path d="M1086.9 578.85L1080.25 592.15H1093.55Z"/><path d="M1115.9 587.35L1109.25 600.65H1122.55Z"/><path d="M1060.7 587.35L1054.05 600.65H1067.35Z"/><path d="M1043.0 594.45L1036.35 607.75H1049.65Z"/><path d="M1075.6 597.95L1068.95 611.25H1082.25Z"/><path d="M1043.7 604.35L1037.05 617.65H1050.35Z"/><path d="M1055.0 605.05L1048.35 618.35H1061.65Z"/><path d="M1071.3 606.45L1064.65 619.75H1077.95Z"/><path d="M1086.2 604.35L1079.55 617.65H1092.85Z"/><path d="M1089.7 609.25L1083.05 622.55H1096.35Z"/><path d="M1083.3 611.45L1076.65 624.75H1089.95Z"/><path d="M1071.3 613.55L1064.65 626.85H1077.95Z"/><path d="M1056.5 619.15L1049.85 632.45H1063.15Z"/><path d="M1062.1 622.75L1055.45 636.05H1068.75Z"/><path d="M1075.6 620.65L1068.95 633.95H1082.25Z"/><path d="M1072.0 623.45L1065.35 636.75H1078.65Z"/><path d="M1096.8 619.15L1090.15 632.45H1103.45Z"/><path d="M1101.0 629.15L1094.35 642.45H1107.65Z"/><path d="M1040.2 634.05L1033.55 647.35H1046.85Z"/><path d="M1111.0 639.05L1104.35 652.35H1117.65Z"/><path d="M1121.5 640.45L1114.85 653.75H1128.15Z"/><path d="M1091.1 643.25L1084.45 656.55H1097.75Z"/><path d="M1089.7 646.05L1083.05 659.35H1096.35Z"/><path d="M1094.9 653.85L1088.25 667.15H1101.55Z"/><path d="M1115.3 656.85L1108.65 670.15H1121.95Z"/><path d="M1037.5 659.85L1030.85 673.15H1044.15Z"/><path d="M1041.4 662.35L1034.75 675.65H1048.05Z"/><path d="M1039.3 666.85L1032.65 680.15H1045.95Z"/><path d="M1068.4 658.55L1061.75 671.85H1075.05Z"/><path d="M1081.9 661.95L1075.25 675.25H1088.55Z"/><path d="M1098.3 661.05L1091.65 674.35H1104.95Z"/><path d="M1098.9 670.95L1092.25 684.25H1105.55Z"/><path d="M1084.3 687.45L1077.65 700.75H1090.95Z"/><path d="M1336.0 62.35L1329.35 75.65H1342.65Z"/><path d="M1432.7 177.15L1426.05 190.45H1439.35Z"/><path d="M1433.0 309.95L1426.35 323.25H1439.65Z"/><path d="M1352.1 397.35L1345.45 410.65H1358.75Z"/><path d="M1430.2 415.15L1423.55 428.45H1436.85Z"/><path d="M1329.0 449.45L1322.35 462.75H1335.65Z"/><path d="M1397.2 453.15L1390.55 466.45H1403.85Z"/><path d="M1396.4 469.25L1389.75 482.55H1403.05Z"/><path d="M1419.0 472.55L1412.35 485.85H1425.65Z"/><path d="M1418.7 502.35L1412.05 515.65H1425.35Z"/><path d="M1428.0 526.55L1421.35 539.85H1434.65Z"/><path d="M1376.1 528.55L1369.45 541.85H1382.75Z"/><path d="M1339.4 541.75L1332.75 555.05H1346.05Z"/><path d="M1357.8 537.15L1351.15 550.45H1364.45Z"/><path d="M1353.3 548.15L1346.65 561.45H1359.95Z"/><path d="M1350.0 550.15L1343.35 563.45H1356.65Z"/><path d="M1344.2 555.95L1337.55 569.25H1350.85Z"/><path d="M1394.1 544.35L1387.45 557.65H1400.75Z"/><path d="M1405.8 541.75L1399.15 555.05H1412.45Z"/><path d="M1400.0 559.85L1393.35 573.15H1406.65Z"/><path d="M1417.5 557.95L1410.85 571.25H1424.15Z"/><path d="M1334.7 569.65L1328.05 582.95H1341.35Z"/><path d="M1356.8 568.95L1350.15 582.25H1363.45Z"/><path d="M1363.7 572.85L1357.05 586.15H1370.35Z"/><path d="M1361.7 577.35L1355.05 590.65H1368.35Z"/><path d="M1375.3 566.35L1368.65 579.65H1381.95Z"/><path d="M1380.5 567.65L1373.85 580.95H1387.15Z"/><path d="M1388.3 573.45L1381.65 586.75H1394.95Z"/><path d="M1389.0 578.65L1382.35 591.95H1395.65Z"/><path d="M1390.9 585.85L1384.25 599.15H1397.55Z"/><path d="M1340.3 589.05L1333.65 602.35H1346.95Z"/><path d="M1377.9 599.45L1371.25 612.75H1384.55Z"/><path d="M1387.0 598.75L1380.35 612.05H1393.65Z"/><path d="M1387.7 601.35L1381.05 614.65H1394.35Z"/><path d="M1332.9 602.65L1326.25 615.95H1339.55Z"/><path d="M1422.7 603.95L1416.05 617.25H1429.35Z"/><path d="M1427.9 603.95L1421.25 617.25H1434.55Z"/><path d="M1408.7 609.15L1402.05 622.45H1415.35Z"/><path d="M1342.2 618.25L1335.55 631.55H1348.85Z"/><path d="M1348.7 617.65L1342.05 630.95H1355.35Z"/><path d="M1385.7 616.95L1379.05 630.25H1392.35Z"/><path d="M1374.0 623.45L1367.35 636.75H1380.65Z"/><path d="M1339.0 626.05L1332.35 639.35H1345.65Z"/><path d="M1385.3 627.55L1378.65 640.85H1391.95Z"/><path d="M1420.7 633.65L1414.05 646.95H1427.35Z"/><path d="M1400.8 638.35L1394.15 651.65H1407.45Z"/><path d="M1410.3 634.55L1403.65 647.85H1416.95Z"/><path d="M1412.2 644.45L1405.55 657.75H1418.85Z"/><path d="M1416.0 641.65L1409.35 654.95H1422.65Z"/><path d="M1429.6 641.65L1422.95 654.95H1436.25Z"/><path d="M1335.3 648.25L1328.65 661.55H1341.95Z"/><path d="M1379.6 641.65L1372.95 654.95H1386.25Z"/><path d="M1365.8 648.75L1359.15 662.05H1372.45Z"/><path d="M1332.5 665.75L1325.85 679.05H1339.15Z"/><path d="M1397.1 664.75L1390.45 678.05H1403.75Z"/><path d="M1397.5 668.05L1390.85 681.35H1404.15Z"/><path d="M1412.6 675.65L1405.95 688.95H1419.25Z"/><path d="M1405.1 684.35L1398.45 697.65H1411.75Z"/><path d="M1366.6 688.35L1359.95 701.65H1373.25Z"/><path d="M1389.0 690.15L1382.35 703.45H1395.65Z"/><path d="M1403.3 700.85L1396.65 714.15H1409.95Z"/><path d="M1738.2 144.45L1731.55 157.75H1744.85Z"/><path d="M1696.3 368.95L1689.65 382.25H1702.95Z"/><path d="M1659.0 378.35L1652.35 391.65H1665.65Z"/><path d="M1691.7 422.55L1685.05 435.85H1698.35Z"/><path d="M1695.0 421.75L1688.35 435.05H1701.65Z"/><path d="M1702.4 434.65L1695.75 447.95H1709.05Z"/><path d="M1685.4 475.65L1678.75 488.95H1692.05Z"/><path d="M1710.1 489.55L1703.45 502.85H1716.75Z"/><path d="M1723.6 484.15L1716.95 497.45H1730.25Z"/><path d="M1741.2 482.35L1734.55 495.65H1747.85Z"/><path d="M1740.8 496.65L1734.15 509.95H1747.45Z"/><path d="M1748.3 510.05L1741.65 523.35H1754.95Z"/><path d="M1736.3 519.25L1729.65 532.55H1742.95Z"/><path d="M1639.2 545.75L1632.55 559.05H1645.85Z"/><path d="M1693.5 524.25L1686.85 537.55H1700.15Z"/><path d="M1694.5 527.05L1687.85 540.35H1701.15Z"/><path d="M1686.7 536.25L1680.05 549.55H1693.35Z"/><path d="M1698.7 539.75L1692.05 553.05H1705.35Z"/><path d="M1682.5 553.95L1675.85 567.25H1689.15Z"/><path d="M1697.3 553.95L1690.65 567.25H1703.95Z"/><path d="M1710.8 559.65L1704.15 572.95H1717.45Z"/><path d="M1744.0 563.15L1737.35 576.45H1750.65Z"/><path d="M1691.7 577.35L1685.05 590.65H1698.35Z"/><path d="M1710.8 578.05L1704.15 591.35H1717.45Z"/><path d="M1715.0 579.45L1708.35 592.75H1721.65Z"/><path d="M1727.1 573.05L1720.45 586.35H1733.75Z"/><path d="M1723.5 579.45L1716.85 592.75H1730.15Z"/><path d="M1739.8 576.65L1733.15 589.95H1746.45Z"/><path d="M1750.4 579.45L1743.75 592.75H1757.05Z"/><path d="M1715.3 582.65L1708.65 595.95H1721.95Z"/><path d="M1661.8 589.15L1655.15 602.45H1668.45Z"/><path d="M1661.8 596.25L1655.15 609.55H1668.45Z"/><path d="M1693.2 587.85L1686.55 601.15H1699.85Z"/><path d="M1694.5 596.25L1687.85 609.55H1701.15Z"/><path d="M1699.7 600.15L1693.05 613.45H1706.35Z"/><path d="M1713.3 593.05L1706.65 606.35H1719.95Z"/><path d="M1729.5 593.65L1722.85 606.95H1736.15Z"/><path d="M1728.2 599.45L1721.55 612.75H1734.85Z"/><path d="M1736.7 597.55L1730.05 610.85H1743.35Z"/><path d="M1739.3 597.55L1732.65 610.85H1745.95Z"/><path d="M1689.0 608.55L1682.35 621.85H1695.65Z"/><path d="M1747.4 611.15L1740.75 624.45H1754.05Z"/><path d="M1701.2 616.35L1694.55 629.65H1707.85Z"/><path d="M1735.1 617.05L1728.45 630.35H1741.75Z"/><path d="M1660.5 631.25L1653.85 644.55H1667.15Z"/><path d="M1728.9 628.05L1722.25 641.35H1735.55Z"/><path d="M1738.6 625.45L1731.95 638.75H1745.25Z"/><path d="M1743.8 628.05L1737.15 641.35H1750.45Z"/><path d="M1742.5 637.15L1735.85 650.45H1749.15Z"/><path d="M1689.0 643.35L1682.35 656.65H1695.65Z"/><path d="M1680.2 659.85L1673.55 673.15H1686.85Z"/><path d="M1706.8 657.85L1700.15 671.15H1713.45Z"/><path d="M1690.0 664.35L1683.35 677.65H1696.65Z"/><path d="M1694.5 668.35L1687.85 681.65H1701.15Z"/><path d="M1689.3 668.95L1682.65 682.25H1695.95Z"/><path d="M1724.1 665.65L1717.45 678.95H1730.75Z"/><path d="M1739.3 687.65L1732.65 700.95H1745.95Z"/><path d="M1694.7 689.85L1688.05 703.15H1701.35Z"/><path d="M1703.9 697.85L1697.25 711.15H1710.55Z"/><path d="M1657.5 724.35L1650.85 737.65H1664.15Z"/><path d="M1757.7 707.55L1751.05 720.85H1764.35Z"/><path d="M1758.3 719.65L1751.65 732.95H1764.95Z"/><path d="M1757.5 726.15L1750.85 739.45H1764.15Z"/><path d="M1624.7 643.05L1618.05 656.35H1631.35Z"/><path d="M1760.0 722.85L1753.35 736.15H1766.65Z"/><path d="M328.0 724.65L321.35 737.95H334.65Z"/><path d="M332.9 721.15L326.25 734.45H339.55Z"/><path d="M343.6 726.95L336.95 740.25H350.25Z"/><path d="M352.3 715.25L345.65 728.55H358.95Z"/><path d="M356.2 722.95L349.55 736.25H362.85Z"/><path d="M544.3 719.05L537.65 732.35H550.95Z"/><path d="M562.1 715.95L555.45 729.25H568.75Z"/><path d="M572.5 722.95L565.85 736.25H579.15Z"/><path d="M602.1 721.45L595.45 734.75H608.75Z"/><path d="M605.4 719.65L598.75 732.95H612.05Z"/><path d="M623.3 710.15L616.65 723.45H629.95Z"/><path d="M617.5 719.15L610.85 732.45H624.15Z"/><path d="M630.0 717.95L623.35 731.25H636.65Z"/><path d="M615.0 720.85L608.35 734.15H621.65Z"/><path d="M611.7 722.55L605.05 735.85H618.35Z"/><path d="M620.8 722.55L614.15 735.85H627.45Z"/><path d="M627.5 721.65L620.85 734.95H634.15Z"/><path d="M633.3 718.65L626.65 731.95H639.95Z"/><path d="M642.9 722.55L636.25 735.85H649.55Z"/><path d="M675.7 722.95L669.05 736.25H682.35Z"/><path d="M692.5 723.25L685.85 736.55H699.15Z"/><path d="M696.7 722.05L690.05 735.35H703.35Z"/><path d="M703.3 725.75L696.65 739.05H709.95Z"/><path d="M612.0 717.35L605.35 730.65H618.65Z"/><path d="M616.0 715.35L609.35 728.65H622.65Z"/><path d="M620.0 716.35L613.35 729.65H626.65Z"/><path d="M627.0 715.35L620.35 728.65H633.65Z"/><path d="M631.0 719.35L624.35 732.65H637.65Z"/><path d="M636.0 720.35L629.35 733.65H642.65Z"/><path d="M609.0 721.35L602.35 734.65H615.65Z"/><path d="M624.0 720.35L617.35 733.65H630.65Z"/><path d="M802.5 711.65L795.85 724.95H809.15Z"/><path d="M808.3 717.55L801.65 730.85H814.95Z"/><path d="M814.2 722.55L807.55 735.85H820.85Z"/><path d="M820.0 725.05L813.35 738.35H826.65Z"/><path d="M825.0 726.65L818.35 739.95H831.65Z"/><path d="M830.0 724.35L823.35 737.65H836.65Z"/><path d="M836.7 723.35L830.05 736.65H843.35Z"/><path d="M845.4 722.15L838.75 735.45H852.05Z"/><path d="M850.8 724.65L844.15 737.95H857.45Z"/><path d="M855.0 722.95L848.35 736.25H861.65Z"/><path d="M859.6 718.35L852.95 731.65H866.25Z"/><path d="M865.0 724.35L858.35 737.65H871.65Z"/><path d="M873.3 718.75L866.65 732.05H879.95Z"/><path d="M878.0 724.35L871.35 737.65H884.65Z"/><path d="M882.5 723.75L875.85 737.05H889.15Z"/><path d="M887.0 725.35L880.35 738.65H893.65Z"/><path d="M892.5 720.05L885.85 733.35H899.15Z"/><path d="M896.7 722.55L890.05 735.85H903.35Z"/><path d="M900.0 724.85L893.35 738.15H906.65Z"/><path d="M905.0 719.35L898.35 732.65H911.65Z"/><path d="M909.0 724.35L902.35 737.65H915.65Z"/><path d="M913.3 717.55L906.65 730.85H919.95Z"/><path d="M917.0 723.35L910.35 736.65H923.65Z"/><path d="M921.7 715.85L915.05 729.15H928.35Z"/><path d="M925.0 723.85L918.35 737.15H931.65Z"/><path d="M928.3 721.65L921.65 734.95H934.95Z"/><path d="M933.3 717.95L926.65 731.25H939.95Z"/><path d="M937.0 723.35L930.35 736.65H943.65Z"/><path d="M943.5 719.15L936.85 732.45H950.15Z"/><path d="M949.2 718.95L942.55 732.25H955.85Z"/><path d="M962.5 717.55L955.85 730.85H969.15Z"/><path d="M956.0 724.35L949.35 737.65H962.65Z"/><path d="M976.7 723.35L970.05 736.65H983.35Z"/><path d="M981.7 724.15L975.05 737.45H988.35Z"/><path d="M985.8 723.35L979.15 736.65H992.45Z"/><path d="M995.0 723.35L988.35 736.65H1001.65Z"/><path d="M1125.8 726.65L1119.15 739.95H1132.45Z"/><path d="M1231.7 724.95L1225.05 738.25H1238.35Z"/><path d="M1236.7 719.95L1230.05 733.25H1243.35Z"/><path d="M1241.7 722.45L1235.05 735.75H1248.35Z"/><path d="M1246.7 721.65L1240.05 734.95H1253.35Z"/><path d="M1251.7 723.35L1245.05 736.65H1258.35Z"/><path d="M1256.7 723.35L1250.05 736.65H1263.35Z"/><path d="M1261.7 726.65L1255.05 739.95H1268.35Z"/><path d="M1269.2 720.85L1262.55 734.15H1275.85Z"/><path d="M1270.0 720.85L1263.35 734.15H1276.65Z"/><path d="M1272.9 720.85L1266.25 734.15H1279.55Z"/><path d="M1286.3 720.85L1279.65 734.15H1292.95Z"/><path d="M1278.0 724.85L1271.35 738.15H1284.65Z"/><path d="M1265.0 724.85L1258.35 738.15H1271.65Z"/><path d="M1312.9 726.65L1306.25 739.95H1319.55Z"/><path d="M1317.5 725.35L1310.85 738.65H1324.15Z"/><path d="M1321.7 726.65L1315.05 739.95H1328.35Z"/><path d="M1325.4 725.85L1318.75 739.15H1332.05Z"/><path d="M1260.0 726.35L1253.35 739.65H1266.65Z"/><path d="M1234.0 724.85L1227.35 738.15H1240.65Z"/><path d="M1239.0 724.85L1232.35 738.15H1245.65Z"/><path d="M1244.0 724.85L1237.35 738.15H1250.65Z"/><path d="M1249.0 725.35L1242.35 738.65H1255.65Z"/><path d="M1254.0 724.85L1247.35 738.15H1260.65Z"/><path d="M1259.0 725.35L1252.35 738.65H1265.65Z"/><path d="M1264.0 725.35L1257.35 738.65H1270.65Z"/><path d="M1282.0 724.85L1275.35 738.15H1288.65Z"/><path d="M1451.7 725.85L1445.05 739.15H1458.35Z"/><path d="M1460.0 725.85L1453.35 739.15H1466.65Z"/><path d="M1466.0 726.35L1459.35 739.65H1472.65Z"/><path d="M1472.5 725.05L1465.85 738.35H1479.15Z"/><path d="M1476.7 723.35L1470.05 736.65H1483.35Z"/><path d="M1483.3 726.35L1476.65 739.65H1489.95Z"/><path d="M1488.3 723.35L1481.65 736.65H1494.95Z"/><path d="M1492.5 726.35L1485.85 739.65H1499.15Z"/><path d="M1495.0 725.05L1488.35 738.35H1501.65Z"/><path d="M1501.7 722.15L1495.05 735.45H1508.35Z"/><path d="M1504.0 726.35L1497.35 739.65H1510.65Z"/><path d="M1518.3 725.05L1511.65 738.35H1524.95Z"/><path d="M1524.0 726.35L1517.35 739.65H1530.65Z"/><path d="M1530.0 722.55L1523.35 735.85H1536.65Z"/><path d="M1533.3 726.35L1526.65 739.65H1539.95Z"/><path d="M1536.7 724.15L1530.05 737.45H1543.35Z"/><path d="M1543.3 724.15L1536.65 737.45H1549.95Z"/><path d="M1548.3 722.55L1541.65 735.85H1554.95Z"/><path d="M1633.3 679.65L1626.65 692.95H1639.95Z"/><path d="M1561.5 703.35L1554.85 716.65H1568.15Z"/><path d="M1557.9 717.55L1551.25 730.85H1564.55Z"/><path d="M1564.2 719.15L1557.55 732.45H1570.85Z"/><path d="M1549.6 723.85L1542.95 737.15H1556.25Z"/><path d="M1554.0 726.35L1547.35 739.65H1560.65Z"/><path d="M1570.0 726.35L1563.35 739.65H1576.65Z"/><path d="M1575.8 723.85L1569.15 737.15H1582.45Z"/><path d="M1580.0 723.85L1573.35 737.15H1586.65Z"/><path d="M1586.0 726.35L1579.35 739.65H1592.65Z"/><path d="M1590.0 726.35L1583.35 739.65H1596.65Z"/><path d="M1594.2 725.05L1587.55 738.35H1600.85Z"/><path d="M1600.8 725.45L1594.15 738.75H1607.45Z"/><path d="M1605.0 726.35L1598.35 739.65H1611.65Z"/><path d="M1610.8 725.45L1604.15 738.75H1617.45Z"/><path d="M1614.0 726.35L1607.35 739.65H1620.65Z"/><path d="M1618.8 722.15L1612.15 735.45H1625.45Z"/><path d="M1626.0 726.35L1619.35 739.65H1632.65Z"/><path d="M1633.3 722.15L1626.65 735.45H1639.95Z"/><path d="M1638.0 726.35L1631.35 739.65H1644.65Z"/><path d="M1643.8 717.95L1637.15 731.25H1650.45Z"/><path d="M1648.0 726.35L1641.35 739.65H1654.65Z"/><path d="M1653.0 726.35L1646.35 739.65H1659.65Z"/><path d="M1657.5 727.15L1650.85 740.45H1664.15Z"/><path d="M1673.4 720.35L1666.75 733.65H1680.05Z"/></g><g fill="#00bfbf"><circle cx="190.7" cy="583.1" r="5.6"/><circle cx="186.4" cy="591.1" r="5.6"/></g></g><line x1="351.5" y1="736.7" x2="351.5" y2="12.2" stroke="#000" stroke-width="5.32" stroke-dasharray="5.32 8.78"/><line x1="669.2" y1="736.7" x2="669.2" y2="12.2" stroke="#000" stroke-width="5.32" stroke-dasharray="5.32 8.78"/><line x1="986.8" y1="736.7" x2="986.8" y2="12.2" stroke="#000" stroke-width="5.32" stroke-dasharray="5.32 8.78"/><line x1="1304.5" y1="736.7" x2="1304.5" y2="12.2" stroke="#000" stroke-width="5.32" stroke-dasharray="5.32 8.78"/><line x1="1622.2" y1="736.7" x2="1622.2" y2="12.2" stroke="#000" stroke-width="5.32" stroke-dasharray="5.32 8.78"/><line x1="175.05" y1="736.2" x2="175.05" y2="12.2" stroke="#f00" stroke-width="5.6" stroke-dasharray="19.68 8.52"/><text x="183" y="40.9" font-family="DejaVu Serif, Liberation Serif, serif" font-size="26.5">MSL</text><text x="183" y="70.6" font-family="DejaVu Serif, Liberation Serif, serif" font-size="26.5">Arrival</text><text x="359.8" y="62.6" font-family="DejaVu Serif, Liberation Serif, serif" font-size="36">MY 32</text><text x="677.5" y="62.6" font-family="DejaVu Serif, Liberation Serif, serif" font-size="36">MY 33</text><text x="995.1" y="62.6" font-family="DejaVu Serif, Liberation Serif, serif" font-size="36">MY 34</text><text x="1312.8" y="62.6" font-family="DejaVu Serif, Liberation Serif, serif" font-size="36">MY 35</text><text x="1630.5" y="62.6" font-family="DejaVu Serif, Liberation Serif, serif" font-size="36">MY 36</text><text transform="translate(1193.5 597) rotate(-90)" font-family="DejaVu Serif, Liberation Serif, serif" font-size="26.5">MY 34 GDS</text><rect x="214.8" y="139" width="236.8" height="114.2" rx="5.5" fill="#fff" fill-opacity="0.8" stroke="#ccc" stroke-width="1.4"/><circle cx="264.2" cy="167.4" r="5.5" fill="#00bfbf"/><path d="M264.2 212.6L257.1 226.4H271.3Z" fill="#000"/><text x="328" y="180" font-family="DejaVu Serif, Liberation Serif, serif" font-size="36">ZMs</text><text x="328" y="231.8" font-family="DejaVu Serif, Liberation Serif, serif" font-size="36">SHMs</text><rect x="113.3" y="12.2" width="1667.90" height="724.50" fill="none" stroke="#000" stroke-width="1.7"/><text x="107.6" y="750.30" text-anchor="end" font-family="DejaVu Serif, Liberation Serif, serif" font-size="36">0.0</text><text x="107.6" y="605.40" text-anchor="end" font-family="DejaVu Serif, Liberation Serif, serif" font-size="36">0.1</text><text x="107.6" y="460.50" text-anchor="end" font-family="DejaVu Serif, Liberation Serif, serif" font-size="36">0.2</text><text x="107.6" y="315.60" text-anchor="end" font-family="DejaVu Serif, Liberation Serif, serif" font-size="36">0.3</text><text x="107.6" y="170.70" text-anchor="end" font-family="DejaVu Serif, Liberation Serif, serif" font-size="36">0.4</text><text x="107.6" y="25.80" text-anchor="end" font-family="DejaVu Serif, Liberation Serif, serif" font-size="36">0.5</text><text transform="translate(106.70 781.40) rotate(-45)" font-family="DejaVu Serif, Liberation Serif, serif" font-size="27">90</text><text transform="translate(180.13 793.40) rotate(-45)" font-family="DejaVu Serif, Liberation Serif, serif" font-size="27">180</text><text transform="translate(260.06 793.40) rotate(-45)" font-family="DejaVu Serif, Liberation Serif, serif" font-size="27">270</text><text transform="translate(350.99 769.40) rotate(-45)" font-family="DejaVu Serif, Liberation Serif, serif" font-size="27">0</text><text transform="translate(424.41 781.40) rotate(-45)" font-family="DejaVu Serif, Liberation Serif, serif" font-size="27">90</text><text transform="translate(497.84 793.40) rotate(-45)" font-family="DejaVu Serif, Liberation Serif, serif" font-size="27">180</text><text transform="translate(577.77 793.40) rotate(-45)" font-family="DejaVu Serif, Liberation Serif, serif" font-size="27">270</text><text transform="translate(668.70 769.40) rotate(-45)" font-family="DejaVu Serif, Liberation Serif, serif" font-size="27">0</text><text transform="translate(742.13 781.40) rotate(-45)" font-family="DejaVu Serif, Liberation Serif, serif" font-size="27">90</text><text transform="translate(815.56 793.40) rotate(-45)" font-family="DejaVu Serif, Liberation Serif, serif" font-size="27">180</text><text transform="translate(895.49 793.40) rotate(-45)" font-family="DejaVu Serif, Liberation Serif, serif" font-size="27">270</text><text transform="translate(986.41 769.40) rotate(-45)" font-family="DejaVu Serif, Liberation Serif, serif" font-size="27">0</text><text transform="translate(1059.84 781.40) rotate(-45)" font-family="DejaVu Serif, Liberation Serif, serif" font-size="27">90</text><text transform="translate(1133.27 793.40) rotate(-45)" font-family="DejaVu Serif, Liberation Serif, serif" font-size="27">180</text><text transform="translate(1213.20 793.40) rotate(-45)" font-family="DejaVu Serif, Liberation Serif, serif" font-size="27">270</text><text transform="translate(1304.13 769.40) rotate(-45)" font-family="DejaVu Serif, Liberation Serif, serif" font-size="27">0</text><text transform="translate(1377.56 781.40) rotate(-45)" font-family="DejaVu Serif, Liberation Serif, serif" font-size="27">90</text><text transform="translate(1450.99 793.40) rotate(-45)" font-family="DejaVu Serif, Liberation Serif, serif" font-size="27">180</text><text transform="translate(1530.91 793.40) rotate(-45)" font-family="DejaVu Serif, Liberation Serif, serif" font-size="27">270</text><text transform="translate(1621.84 769.40) rotate(-45)" font-family="DejaVu Serif, Liberation Serif, serif" font-size="27">0</text><text transform="translate(1695.27 781.40) rotate(-45)" font-family="DejaVu Serif, Liberation Serif, serif" font-size="27">90</text><text transform="translate(1768.70 793.40) rotate(-45)" font-family="DejaVu Serif, Liberation Serif, serif" font-size="27">180</text><text x="947.5" y="838" text-anchor="middle" font-family="DejaVu Serif, Liberation Serif, serif" font-size="44.5">Solar Longitude</text><text transform="translate(34 374.9) rotate(-90)" text-anchor="middle" font-family="DejaVu Serif, Liberation Serif, serif" font-size="44.5">VIS/NIR Cloud Opacity</text></svg></body></html>
